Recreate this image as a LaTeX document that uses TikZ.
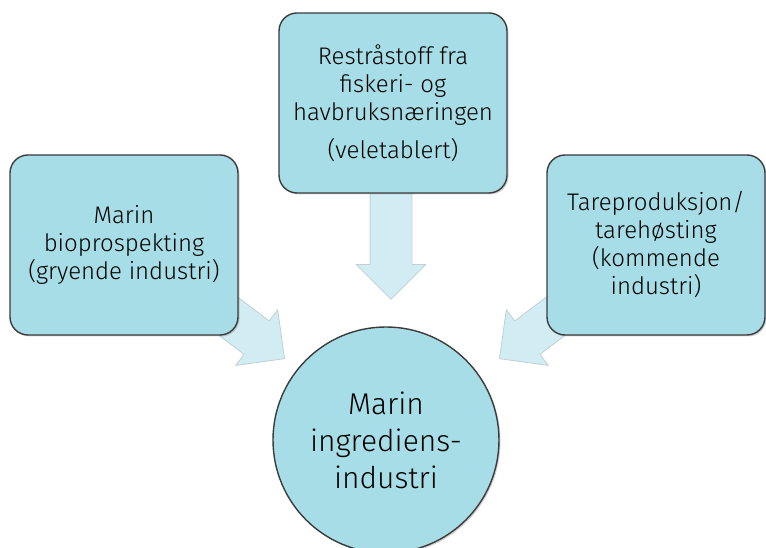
\documentclass[tikz,border=0pt]{standalone}
\usepackage{fontspec}
\setmainfont{Fira Sans}[UprightFont={* Light}]
\usetikzlibrary{shapes.arrows,shadows}
\definecolor{havblaa}{RGB}{166,221,230}
\definecolor{pilblaa}{RGB}{210,236,243}
\definecolor{pilkant}{RGB}{192,208,212}
\definecolor{kant}{RGB}{60,60,60}
\tikzset{
  kilde/.style={draw=kant,line width=1.4pt,fill=havblaa,rounded corners=18pt,
    minimum width=228pt,minimum height=180pt,align=center,
    font=\fontsize{24}{28}\selectfont,
    drop shadow={shadow xshift=1.5pt,shadow yshift=-1.5pt,opacity=.35}},
  blokkpil/.style={single arrow,draw=pilkant,line width=.8pt,fill=pilblaa,
    single arrow head extend=14pt,single arrow tip angle=90,
    inner sep=20.5pt,anchor=tip}
}
\begin{document}
\begin{tikzpicture}[x=1pt,y=1pt,line join=round]
\useasboundingbox (0,0) rectangle (766,548);

% block arrows (under the boxes)
\node[blokkpil,minimum height=107pt,rotate=-90] (pilTopp) at (391,248) {};
\node[blokkpil,minimum height=95pt,rotate=-37] (pilVenstre) at (285,189) {};
\node[blokkpil,minimum height=95pt,rotate=217] (pilHoyre) at (499,189) {};

% source boxes
\node[kilde] (bioprospekt) at (124,303) {Marin\\bioprospekting\\(gryende industri)};
\node[kilde] (restraastoff) at (393,445) {Restråstoff fra\\fiskeri- og\\havbruksnæringen\\[10pt](veletablert)};
\node[kilde,minimum width=218pt] (tare) at (656,303) {Tareproduksjon/\\tarehøsting\\(kommende\\industri)};

% hub
\node[circle,draw=kant,line width=1.4pt,fill=havblaa,minimum size=226pt,
  align=center,font=\fontsize{30}{37}\selectfont,
  drop shadow={shadow xshift=1.5pt,shadow yshift=-1.5pt,opacity=.35}]
  (ingrediens) at (386,108) {Marin\\ingrediens-\\industri};

\end{tikzpicture}
\end{document}
